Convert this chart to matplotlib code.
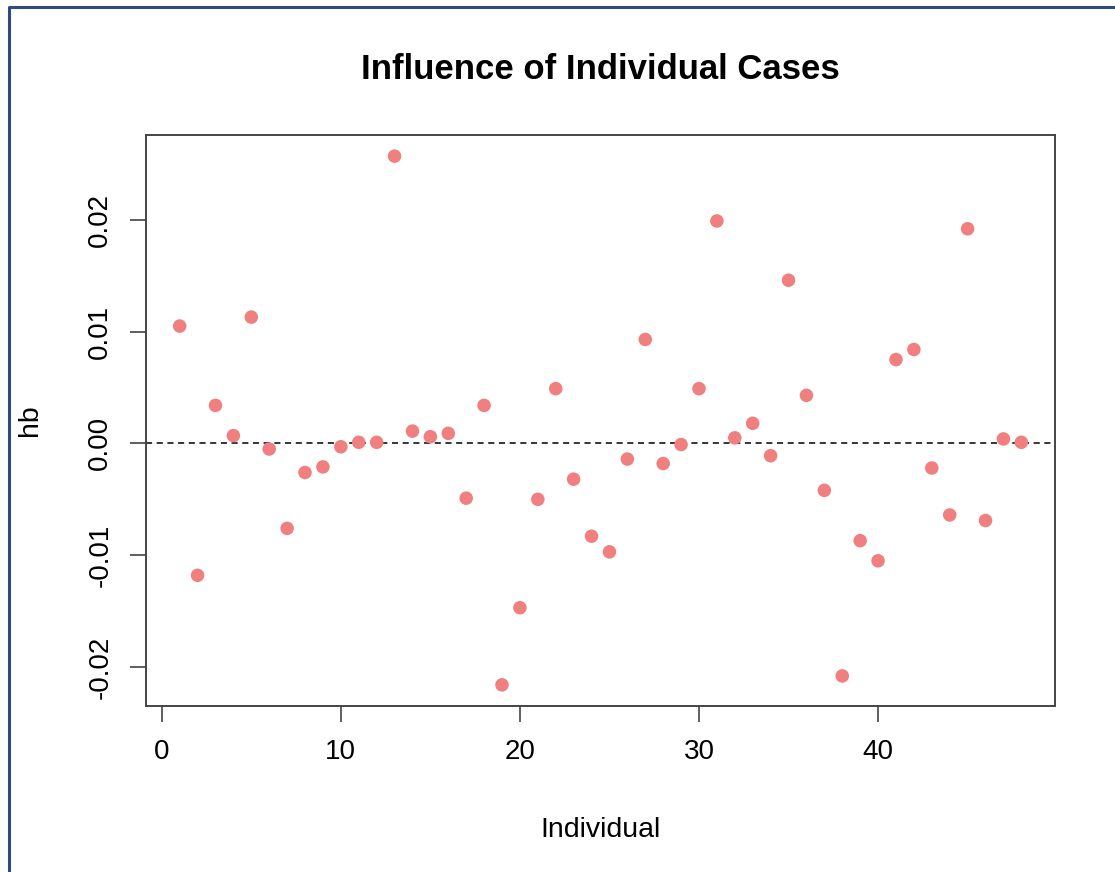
import numpy as np
import matplotlib.pyplot as plt
from matplotlib.lines import Line2D

plt.rcParams['font.family'] = ['Liberation Sans', 'DejaVu Sans']

# influence (dfbeta) per individual
individual = np.arange(1, 49)
hb = [0.0105, -0.0118, 0.0034, 0.0007, 0.0113, -0.0005, -0.0076, -0.0026,
      -0.0021, -0.0003, 0.0001, 0.0001, 0.0257, 0.0011, 0.0006, 0.0009,
      -0.0049, 0.0034, -0.0216, -0.0147, -0.0050, 0.0049, -0.0032, -0.0083,
      -0.0097, -0.0014, 0.0093, -0.0018, -0.0001, 0.0049, 0.0199, 0.0005,
      0.0018, -0.0011, 0.0146, 0.0043, -0.0042, -0.0208, -0.0087, -0.0105,
      0.0075, 0.0084, -0.0022, -0.0064, 0.0192, -0.0069, 0.0004, 0.0001]
x_ticks = [0, 10, 20, 30, 40]
y_ticks = [-0.02, -0.01, 0.00, 0.01, 0.02]
y_tick_labels = ["-0.02", "-0.01", "0.00", "0.01", "0.02"]

W, H = 1115, 872
fig = plt.figure(figsize=(W / 100, H / 100), dpi=100)
ax = fig.add_axes([146 / W, 1 - 706 / H, (1055 - 146) / W, (706 - 135) / H])

ax.scatter(individual, hb, s=95, color='#F08080', edgecolors='none', zorder=3)
ax.axhline(0, color='black', linestyle=(0, (4, 3)), linewidth=1.1, zorder=2)

# R-style 4% padding around the data range
xr = individual.max() - individual.min()
ax.set_xlim(individual.min() - 0.04 * xr, individual.max() + 0.04 * xr)
yr = max(hb) - min(hb)
ax.set_ylim(min(hb) - 0.04 * yr, max(hb) + 0.04 * yr)

ax.set_xticks(x_ticks)
ax.set_yticks(y_ticks)
ax.set_yticklabels(y_tick_labels, rotation=90, va='center')
ax.tick_params(axis='both', direction='out', length=11.5, width=1.2,
               color='#444444', labelsize=20, pad=12)
for sp in ax.spines.values():
    sp.set_color('#444444')
    sp.set_linewidth(1.4)

ax.set_title("Influence of Individual Cases", fontsize=25, fontweight='bold', pad=40)
ax.set_xlabel("Individual", fontsize=20.5, labelpad=38)
ax.set_ylabel("hb", fontsize=20.5, labelpad=32)

# frame line along the top and left edges of the figure
fig.add_artist(Line2D([9 / W, 9 / W, 1.0], [0.0, 1 - 7 / H, 1 - 7 / H],
                      transform=fig.transFigure, color='#2E4A80', linewidth=2.2))

fig.savefig("out.png", dpi=100, facecolor='white')
